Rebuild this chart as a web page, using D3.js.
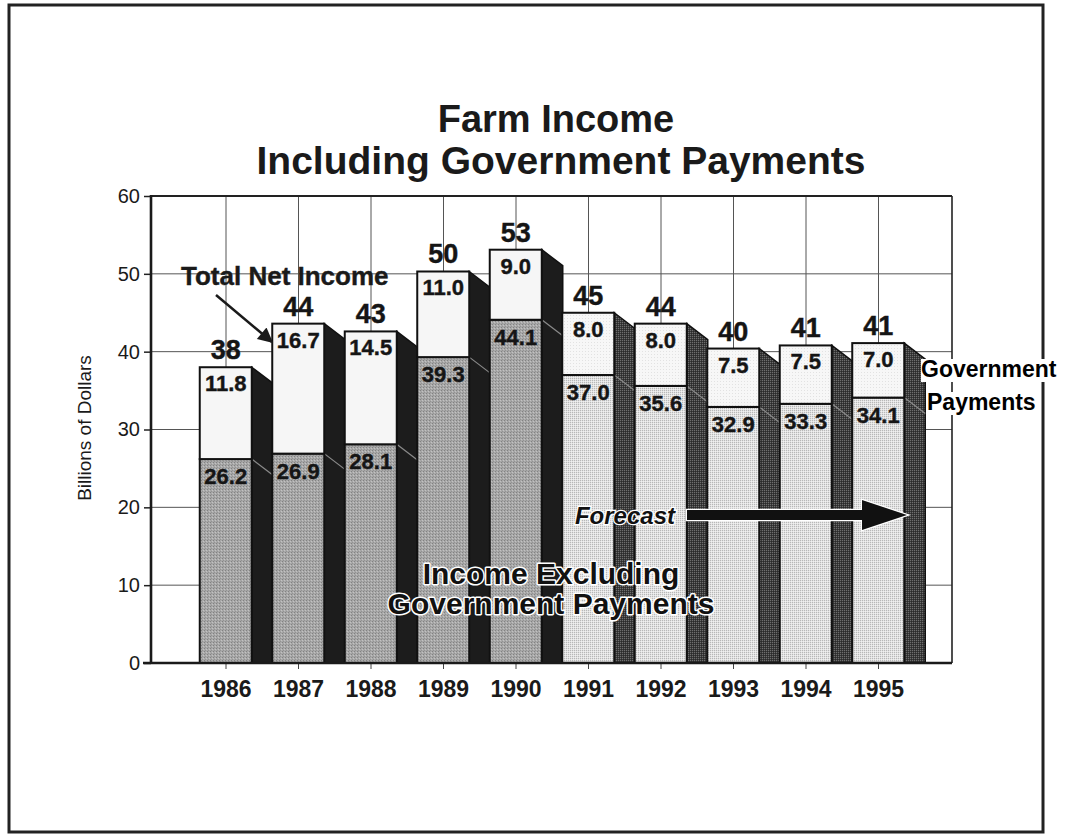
<!DOCTYPE html>
<html lang="en">
<head>
<meta charset="utf-8">
<style>
  body { margin: 0; background: #fff; }
  text { font-family: "Liberation Sans", Arial, Helvetica, sans-serif; }
</style>
</head>
<body>
<script src="https://d3js.org/d3.v7.min.js"></script>
<script>
// values, billions of dollars
const years = ["1986", "1987", "1988", "1989", "1990", "1991", "1992", "1993", "1994", "1995"];
const incomeExcl = [26.2, 26.9, 28.1, 39.3, 44.1, 37.0, 35.6, 32.9, 33.3, 34.1];
const govPayments = [11.8, 16.7, 14.5, 11.0, 9.0, 8.0, 8.0, 7.5, 7.5, 7.0];
const totalLabels = ["38", "44", "43", "50", "53", "45", "44", "40", "41", "41"];
const forecastYears = ["1991", "1992", "1993", "1994", "1995"];
const yTicks = [0, 10, 20, 30, 40, 50, 60];

const width = 1072, height = 834;
const plotL = 151, plotR = 952, plotT = 196, plotB = 663;

const svg = d3.select("body").append("svg")
  .attr("width", width)
  .attr("height", height)
  .attr("viewBox", [0, 0, width, height]);

// stipple patterns to mimic the halftone print
const defs = svg.append("defs");
function stipple(id, base, dots, size) {
  const p = defs.append("pattern").attr("id", id)
    .attr("width", size).attr("height", size)
    .attr("patternUnits", "userSpaceOnUse");
  p.append("rect").attr("width", size).attr("height", size).attr("fill", base);
  dots.forEach(d => p.append("rect")
    .attr("x", d[0]).attr("y", d[1]).attr("width", 1).attr("height", 1).attr("fill", d[2]));
}
stipple("histLow", "#a8a8a8", [[0, 0, "#828282"], [2, 1, "#c2c2c2"], [1, 2, "#939393"]], 3);
stipple("fcLow", "#e2e2e2", [[0, 0, "#b8b8b8"], [1, 1, "#f0f0f0"]], 2);
stipple("fcUp", "#f7f7f7", [[0, 0, "#e2e2e2"]], 3);
stipple("fcSide", "#3a3a3a", [[0, 0, "#6e6e6e"], [1, 1, "#2a2a2a"]], 2);

// outer border
svg.append("rect")
  .attr("x", 9).attr("y", 5).attr("width", 1034).attr("height", 827)
  .attr("fill", "none").attr("stroke", "#222").attr("stroke-width", 3);

// title
svg.append("text").attr("x", 556).attr("y", 132).attr("text-anchor", "middle")
  .attr("font-size", 38).attr("font-weight", "bold").attr("fill", "#1a1a1a")
  .text("Farm Income");
svg.append("text").attr("x", 561).attr("y", 174).attr("text-anchor", "middle")
  .attr("font-size", 39).attr("font-weight", "bold").attr("fill", "#1a1a1a")
  .text("Including Government Payments");

const x = d3.scaleBand().domain(years).range([189.75, 914.75]).padding(0);
const y = d3.scaleLinear().domain([0, 60]).range([plotB, plotT]);

const frontOff = 10, frontW = 52, depth = 21, drop = 16;

// grid
const grid = svg.append("g").attr("stroke", "#555").attr("stroke-width", 1);
grid.selectAll("line.h")
  .data(yTicks.filter(t => t > 0 && t < 60))
  .join("line")
  .attr("class", "h")
  .attr("x1", plotL).attr("x2", plotR)
  .attr("y1", d => y(d)).attr("y2", d => y(d));
grid.selectAll("line.v")
  .data(years)
  .join("line")
  .attr("class", "v")
  .attr("x1", d => x(d) + x.bandwidth() / 2).attr("x2", d => x(d) + x.bandwidth() / 2)
  .attr("y1", plotT).attr("y2", plotB);

// frame top and right
svg.append("line").attr("x1", plotL).attr("x2", plotR).attr("y1", plotT).attr("y2", plotT)
  .attr("stroke", "#222").attr("stroke-width", 2.2);
svg.append("line").attr("x1", plotR).attr("x2", plotR).attr("y1", plotT).attr("y2", plotB)
  .attr("stroke", "#222").attr("stroke-width", 1.6);

const rows = years.map((yr, i) => ({
  year: yr,
  low: incomeExcl[i],
  gov: govPayments[i],
  total: totalLabels[i],
  fc: forecastYears.includes(yr)
}));

const bars = svg.append("g").selectAll("g")
  .data(rows)
  .join("g");

// side face
bars.append("path")
  .attr("d", d => {
    const x1 = x(d.year) + frontOff + frontW;
    const yt = y(d.low + d.gov);
    return `M${x1},${yt}L${x1 + depth},${yt + drop}L${x1 + depth},${plotB}L${x1},${plotB}Z`;
  })
  .attr("fill", d => d.fc ? "url(#fcSide)" : "#1c1c1c")
  .attr("stroke", "#111").attr("stroke-width", 1.5);

// split line on side
bars.append("line")
  .attr("x1", d => x(d.year) + frontOff + frontW)
  .attr("x2", d => x(d.year) + frontOff + frontW + depth)
  .attr("y1", d => y(d.low))
  .attr("y2", d => y(d.low) + drop)
  .attr("stroke", "#8a8a8a").attr("stroke-width", 1.2);

// lower front: income excluding payments
bars.append("rect")
  .attr("x", d => x(d.year) + frontOff)
  .attr("y", d => y(d.low))
  .attr("width", frontW)
  .attr("height", d => plotB - y(d.low))
  .attr("fill", d => d.fc ? "url(#fcLow)" : "url(#histLow)")
  .attr("stroke", "#111").attr("stroke-width", 2);

// upper front: government payments
bars.append("rect")
  .attr("x", d => x(d.year) + frontOff)
  .attr("y", d => y(d.low + d.gov))
  .attr("width", frontW)
  .attr("height", d => y(d.low) - y(d.low + d.gov))
  .attr("fill", d => d.fc ? "url(#fcUp)" : "#f6f6f6")
  .attr("stroke", "#111").attr("stroke-width", 2);

const fmt = d3.format(".1f");
const cx = d => x(d.year) + frontOff + frontW / 2;

bars.append("text")
  .attr("x", cx).attr("y", d => y(d.low + d.gov) + 24)
  .attr("text-anchor", "middle").attr("font-size", 22).attr("font-weight", "bold")
  .attr("fill", "#151515").attr("stroke", "#151515").attr("stroke-width", 0.4)
  .text(d => fmt(d.gov));

bars.append("text")
  .attr("x", cx).attr("y", d => y(d.low) + 25)
  .attr("text-anchor", "middle").attr("font-size", 22).attr("font-weight", "bold")
  .attr("fill", "#151515").attr("stroke", "#151515").attr("stroke-width", 0.4)
  .text(d => fmt(d.low));

bars.append("text")
  .attr("x", cx).attr("y", d => y(d.low + d.gov) - 8)
  .attr("text-anchor", "middle").attr("font-size", 27).attr("font-weight", "bold")
  .attr("fill", "#151515").attr("stroke", "#151515").attr("stroke-width", 0.4)
  .text(d => d.total);

// axes
const yAxis = svg.append("g")
  .attr("transform", `translate(${plotL},0)`)
  .call(d3.axisLeft(y).tickValues(yTicks).tickSize(7).tickSizeOuter(0).tickPadding(4));
yAxis.select(".domain").remove();
yAxis.selectAll(".tick line").attr("stroke", "#222").attr("stroke-width", 1.5);
yAxis.selectAll(".tick text").attr("font-size", 20).attr("fill", "#1a1a1a")
  .style("font-family", "'Liberation Sans', Arial, sans-serif");

const xAxis = svg.append("g")
  .attr("transform", `translate(0,${plotB})`)
  .call(d3.axisBottom(x).tickSize(6).tickSizeOuter(0).tickPadding(12));
xAxis.select(".domain").remove();
xAxis.selectAll(".tick line").attr("stroke", "#444").attr("stroke-width", 1);
xAxis.selectAll(".tick text").attr("font-size", 23).attr("font-weight", "bold").attr("fill", "#1a1a1a")
  .style("font-family", "'Liberation Sans', Arial, sans-serif");

svg.append("line").attr("x1", plotL).attr("x2", plotL).attr("y1", plotT - 1).attr("y2", plotB + 1)
  .attr("stroke", "#1a1a1a").attr("stroke-width", 2.6);
svg.append("line").attr("x1", plotL - 8).attr("x2", plotR).attr("y1", plotB).attr("y2", plotB)
  .attr("stroke", "#1a1a1a").attr("stroke-width", 2.6);

// y axis title
svg.append("text")
  .attr("transform", "translate(91,428) rotate(-90)")
  .attr("text-anchor", "middle").attr("font-size", 19).attr("fill", "#1a1a1a")
  .text("Billions of Dollars");

// Total Net Income callout
svg.append("text").attr("x", 181).attr("y", 285)
  .attr("font-size", 26).attr("font-weight", "bold").attr("fill", "#1a1a1a")
  .attr("stroke", "#1a1a1a").attr("stroke-width", 0.4)
  .text("Total Net Income");
defs.append("marker").attr("id", "head")
  .attr("viewBox", "0 0 10 10").attr("refX", 9).attr("refY", 5)
  .attr("markerWidth", 7).attr("markerHeight", 6).attr("orient", "auto")
  .attr("markerUnits", "strokeWidth")
  .append("path").attr("d", "M0,0L10,5L0,10Z").attr("fill", "#1a1a1a");
svg.append("line").attr("x1", 216).attr("y1", 295).attr("x2", 272).attr("y2", 342)
  .attr("stroke", "#1a1a1a").attr("stroke-width", 2.5).attr("marker-end", "url(#head)");

// Income Excluding label over bars
[["Income Excluding", 584], ["Government Payments", 614]].forEach(([t, yy]) => {
  svg.append("text").attr("x", 551).attr("y", yy).attr("text-anchor", "middle")
    .attr("font-size", 30).attr("font-weight", "bold")
    .attr("fill", "#111").attr("stroke", "#fff").attr("stroke-width", 3)
    .attr("paint-order", "stroke").attr("stroke-linejoin", "round")
    .text(t);
});

// Forecast arrow
svg.append("text").attr("x", 675).attr("y", 524).attr("text-anchor", "end")
  .attr("font-size", 24).attr("font-weight", "bold").attr("font-style", "italic")
  .attr("fill", "#111").attr("stroke", "#fff").attr("stroke-width", 2.5)
  .attr("paint-order", "stroke").text("Forecast");
svg.append("path")
  .attr("d", "M687,510L862,510L862,500L907,515L862,530L862,520L687,520Z")
  .attr("fill", "#111").attr("stroke", "#fff").attr("stroke-width", 2.5)
  .attr("paint-order", "stroke").attr("stroke-linejoin", "miter");

// Government Payments side label
[["Government", 921, 377, 359], ["Payments", 927, 410, 392]].forEach(([t, xx, yy, by]) => {
  const txt = svg.append("text").attr("x", xx).attr("y", yy)
    .attr("font-size", 23).attr("font-weight", "bold").attr("fill", "#000").text(t);
  const b = txt.node().getBBox();
  svg.insert("rect", () => txt.node())
    .attr("x", b.x).attr("y", by).attr("width", b.width).attr("height", 23).attr("fill", "#fff");
});
</script>
</body>
</html>
